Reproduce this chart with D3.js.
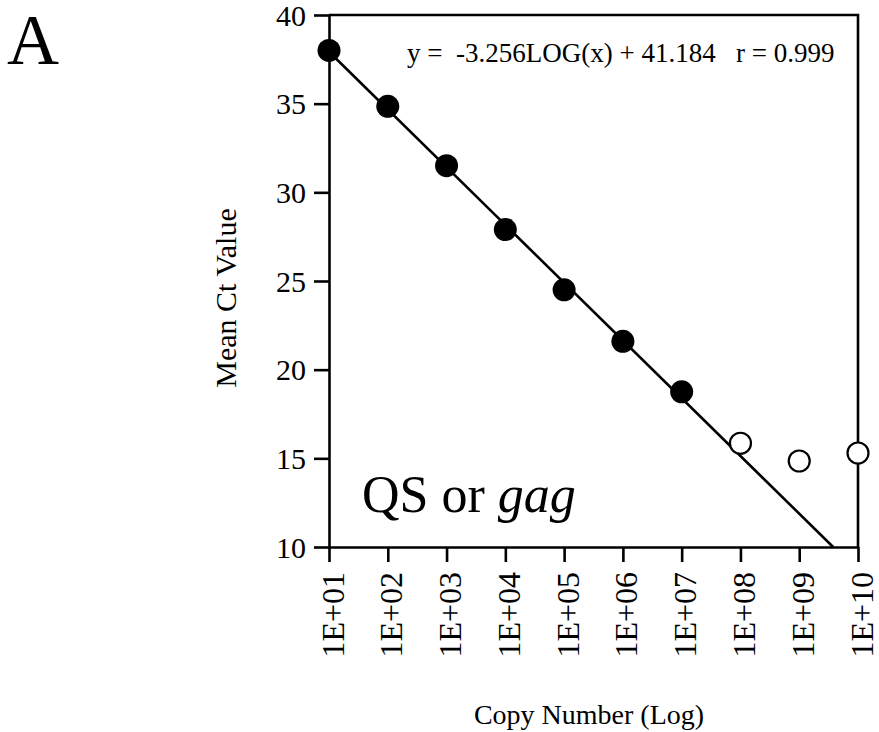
<!DOCTYPE html>
<html>
<head>
<meta charset="utf-8">
<script src="https://cdnjs.cloudflare.com/ajax/libs/d3/7.8.5/d3.min.js"></script>
<style>
  body { margin: 0; background: #fff; }
  svg { display: block; }
  text { font-family: "Liberation Serif", "Times New Roman", serif; fill: #000; }
</style>
</head>
<body>
<svg id="chart" width="879" height="732"></svg>
<script>
// copy numbers (powers of ten) and mean Ct values
var exponents = [1, 2, 3, 4, 5, 6, 7, 8, 9, 10];
var filledCt = [38.0, 34.85, 31.5, 27.9, 24.5, 21.6, 18.75];
var openCt = [15.85, 14.85, 15.3];
var yTicks = [10, 15, 20, 25, 30, 35, 40];
var fitSlope = [-3.256];
var fitIntercept = [41.184];

(function() {

var filled = filledCt.map(function(v, i) { return { x: Math.pow(10, exponents[i]), y: v }; });
var open = openCt.map(function(v, i) { return { x: Math.pow(10, exponents[i + filledCt.length]), y: v }; });

var svg = d3.select('#chart');

var mLeft = 329, mRight = 858, mTop = 15, mBottom = 547;

var x = d3.scaleLog().domain([1e1, 1e10]).range([mLeft, mRight]);
var y = d3.scaleLinear().domain([10, 40]).range([mBottom, mTop]);

var sw = 2.6;

// y axis
var ya = svg.append('g')
    .attr('transform', 'translate(' + mLeft + ',0)')
    .call(d3.axisLeft(y).tickValues(yTicks).tickSize(15).tickSizeOuter(0).tickPadding(8));

// x axis
var xa = svg.append('g')
    .attr('transform', 'translate(0,' + mBottom + ')')
    .call(d3.axisBottom(x)
        .tickValues(exponents.map(function(e) { return Math.pow(10, e); }))
        .tickSize(15).tickSizeOuter(0)
        .tickFormat(function(d) {
            var e = Math.round(Math.log10(d));
            return '1E+' + (e < 10 ? '0' + e : e);
        }));

[ya, xa].forEach(function(g) {
    g.attr('font-family', null).attr('font-size', null);
    g.selectAll('path, line').attr('stroke', '#000').attr('stroke-width', sw);
    g.selectAll('text').style('font-size', '30px');
});

xa.selectAll('text')
    .style('font-size', '32px')
    .attr('transform', 'rotate(-90)')
    .attr('text-anchor', 'end')
    .attr('x', -25)
    .attr('y', 14)
    .attr('dy', null);

ya.selectAll('text').attr('dy', '0.34em');

// frame: top and right
svg.append('path')
    .attr('d', 'M' + mLeft + ',' + mTop + 'H' + mRight + 'V' + mBottom)
    .attr('fill', 'none')
    .attr('stroke', '#000')
    .attr('stroke-width', sw);

// regression line
var xEnd = Math.pow(10, (10 - fitIntercept[0]) / fitSlope[0]);
var fitPts = [1e1, xEnd].map(function(v) {
    return { x: v, y: fitSlope[0] * Math.log10(v) + fitIntercept[0] };
});
svg.append('path')
    .datum(fitPts)
    .attr('d', d3.line().x(function(d) { return x(d.x); }).y(function(d) { return y(d.y); }))
    .attr('fill', 'none')
    .attr('stroke', '#000')
    .attr('stroke-width', sw);

// points
svg.selectAll('circle.filled')
    .data(filled)
    .enter().append('circle')
        .attr('class', 'filled')
        .attr('cx', function(d) { return x(d.x); })
        .attr('cy', function(d) { return y(d.y); })
        .attr('r', 11.5)
        .attr('fill', '#000');

svg.selectAll('circle.open')
    .data(open)
    .enter().append('circle')
        .attr('class', 'open')
        .attr('cx', function(d) { return x(d.x); })
        .attr('cy', function(d) { return y(d.y); })
        .attr('r', 10.5)
        .attr('fill', '#fff')
        .attr('stroke', '#000')
        .attr('stroke-width', 2.2);

// equation
svg.append('text')
    .attr('x', 407)
    .attr('y', 62)
    .style('font-size', '27px')
    .style('white-space', 'pre')
    .text('y =  -3.256LOG(x) + 41.184   r = 0.999');

// in-plot label
var lab = svg.append('text')
    .attr('x', 362)
    .attr('y', 512)
    .style('font-size', '52px');
lab.append('tspan').text('QS or ');
lab.append('tspan').style('font-style', 'italic').text('gag');

// panel letter
svg.append('text')
    .attr('x', 7)
    .attr('y', 64)
    .style('font-size', '72px')
    .text('A');

// axis titles
svg.append('text')
    .attr('transform', 'translate(236,298) rotate(-90)')
    .attr('text-anchor', 'middle')
    .style('font-size', '30px')
    .text('Mean Ct Value');

svg.append('text')
    .attr('x', 589)
    .attr('y', 724)
    .attr('text-anchor', 'middle')
    .style('font-size', '28px')
    .text('Copy Number (Log)');

})();
</script>
</body>
</html>
